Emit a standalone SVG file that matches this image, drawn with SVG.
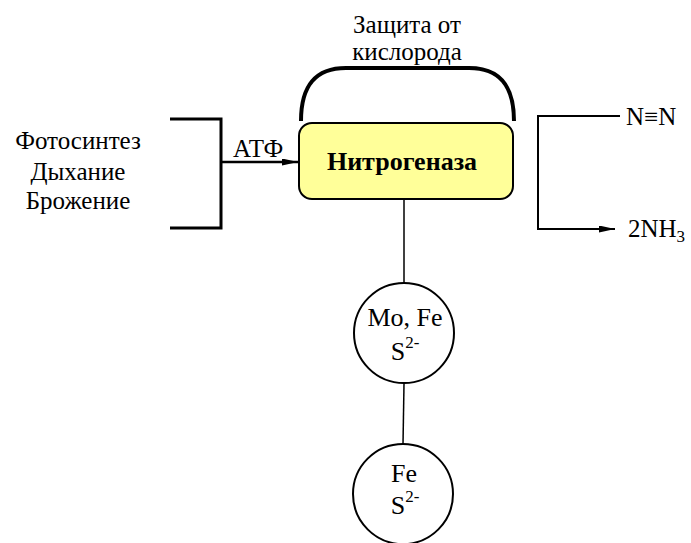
<svg xmlns="http://www.w3.org/2000/svg" width="691" height="543" viewBox="0 0 691 543">
<defs>
<style>
.t{font-family:"Liberation Serif","Times New Roman",serif;font-size:25px;fill:#000}
.c{font-size:26px}
.b{font-size:26px;font-weight:bold}
.s{font-size:17px}
.ln{stroke:#000;fill:none}
</style>
<marker id="ah" viewBox="0 0 16 7" refX="16" refY="3.5" markerWidth="16" markerHeight="7" markerUnits="userSpaceOnUse" orient="auto"><path d="M0,0 L16,3.5 L0,7 z" fill="#000"/></marker>
</defs>
<rect width="691" height="543" fill="#fff"/>
<g id="connectors">
<path class="ln" stroke-width="3" d="M170,119 H221 V228 H170"/>
<line class="ln" stroke-width="2.5" x1="221" y1="162" x2="298" y2="162" marker-end="url(#ah)"/>
<path class="ln" stroke-width="4" d="M301,121 C301,85 316,68 346,68 L469,68 C499,68 514,85 514,121"/>
<path class="ln" stroke-width="2" d="M620,116 H538 V229 H615" marker-end="url(#ah)"/>
<line class="ln" stroke-width="1.5" x1="404" y1="199" x2="404" y2="283"/>
<line class="ln" stroke-width="1.5" x1="404" y1="384" x2="403" y2="444"/>
</g>
<g id="protection">
<text class="t" x="407" y="33" text-anchor="middle">Защита от</text>
<text class="t" x="407" y="60" text-anchor="middle">кислорода</text>
</g>
<g id="sources">
<text class="t" x="78" y="149" text-anchor="middle">Фотосинтез</text>
<text class="t" x="78" y="180" text-anchor="middle">Дыхание</text>
<text class="t" x="78" y="209" text-anchor="middle">Брожение</text>
</g>
<g id="atf"><text class="t" x="233" y="157">АТФ</text></g>
<g id="nitrogenase">
<rect x="299" y="123" width="214" height="76" rx="13" fill="#ffff99" stroke="#000" stroke-width="2"/>
<text class="t b" x="402" y="170" text-anchor="middle">Нитрогеназа</text>
</g>
<g id="n2"><text class="t" x="626" y="125">N≡N</text></g>
<g id="nh3"><text class="t" x="628" y="237">2NH<tspan class="s" dy="5">3</tspan></text></g>
<g id="mofe">
<circle cx="404" cy="333" r="50" fill="#fff" stroke="#000" stroke-width="2"/>
<text class="t c" x="405" y="326" text-anchor="middle">Mo, Fe</text>
<text class="t c" x="405" y="360" text-anchor="middle">S<tspan class="s" dy="-12">2-</tspan></text>
</g>
<g id="fe">
<circle cx="403" cy="494" r="50" fill="#fff" stroke="#000" stroke-width="2"/>
<text class="t c" x="404" y="482" text-anchor="middle">Fe</text>
<text class="t c" x="405" y="514" text-anchor="middle">S<tspan class="s" dy="-12">2-</tspan></text>
</g>
</svg>
